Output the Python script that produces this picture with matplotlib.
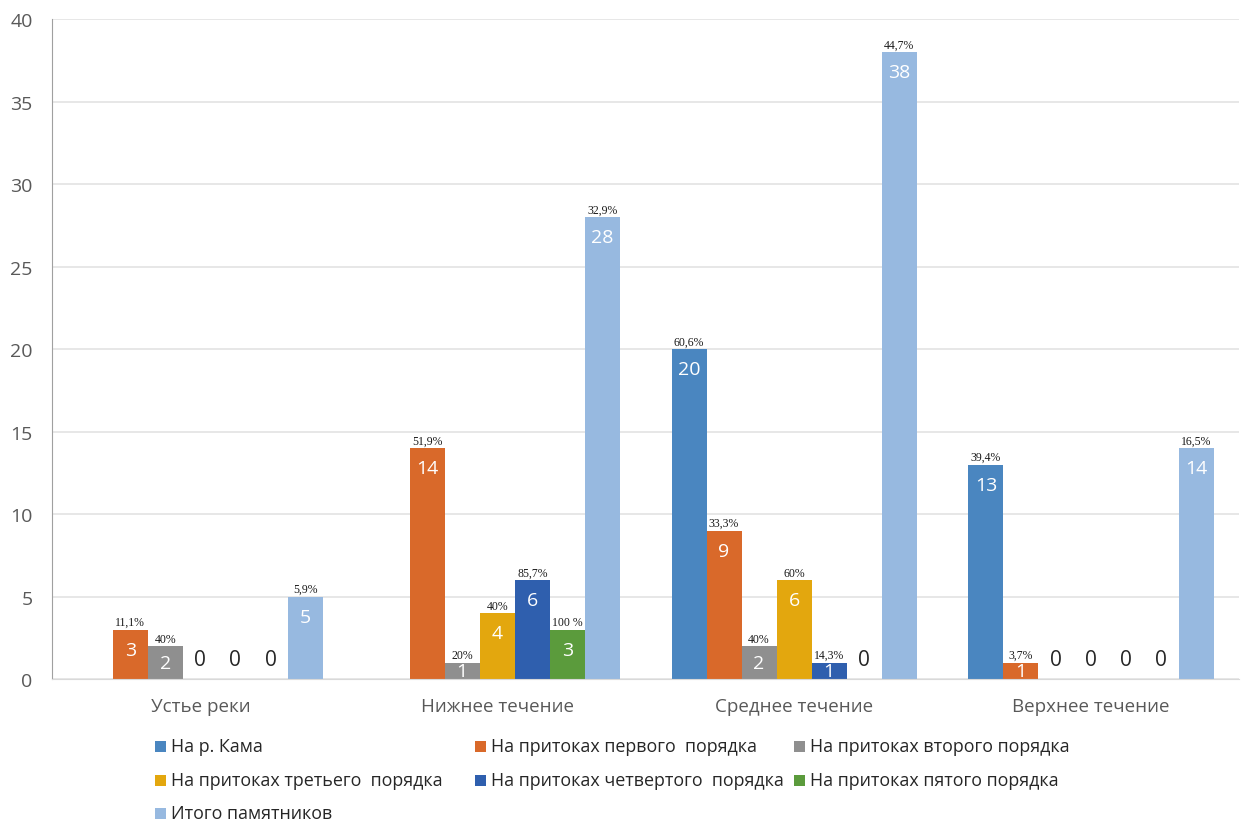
import matplotlib
matplotlib.use("Agg")
import matplotlib.pyplot as plt
from matplotlib.patches import Rectangle
import numpy as np

categories = ["Устье реки", "Нижнее течение", "Среднее течение", "Верхнее течение"]
series_names = ["На р. Кама", "На притоках первого  порядка", "На притоках второго порядка",
                "На притоках третьего  порядка", "На притоках четвертого  порядка",
                "На притоках пятого порядка", "Итого памятников"]
kama      = [None, None, 20, 13]
first     = [3, 14, 9, 1]
second    = [2, 1, 2, 0]
third     = [0, 4, 6, 0]
fourth    = [0, 6, 1, 0]
fifth     = [0, 3, 0, 0]
total     = [5, 28, 38, 14]
pct_kama   = [None, None, "60,6%", "39,4%"]
pct_first  = ["11,1%", "51,9%", "33,3%", "3,7%"]
pct_second = ["40%", "20%", "40%", None]
pct_third  = [None, "40%", "60%", None]
pct_fourth = [None, "85,7%", "14,3%", None]
pct_fifth  = [None, "100 %", None, None]
pct_total  = ["5,9%", "32,9%", "44,7%", "16,5%"]

colors = ["#4a86c0", "#d9692a", "#8f8f8f", "#e3a70e", "#2f5fae", "#5b9b3c", "#97b9e0"]
values = [kama, first, second, third, fourth, fifth, total]
pcts = [pct_kama, pct_first, pct_second, pct_third, pct_fourth, pct_fifth, pct_total]

plt.rcParams['font.family'] = ['Open Sans', 'DejaVu Sans']

W, H = 1246, 828
fig = plt.figure(figsize=(W / 100, H / 100), dpi=100)
ax = fig.add_axes([0.0417, 0.1787, 0.953, 0.7971])
ax.set_xlim(-0.5, 3.5)
ax.set_ylim(0, 40)
ax.set_yticks(range(0, 41, 5))
ax.yaxis.grid(True, color="#e3e3e3", linewidth=1.2)
ax.set_axisbelow(True)
for s in ["top", "right"]:
    ax.spines[s].set_visible(False)
ax.spines["left"].set_color("#a0a0a0")
ax.spines["bottom"].set_color("#d9d9d9")
ax.tick_params(axis="y", length=0, pad=14, labelsize=14, labelcolor="#595959")
ax.tick_params(axis="x", length=0, pad=13, labelsize=13.5, labelcolor="#595959")
ax.set_xticks(range(4))
ax.set_xticklabels(categories)

w = 0.118
x = np.arange(4)
px_per_unit = 660 / 40.0
for i, (vals, col, pc) in enumerate(zip(values, colors, pcts)):
    pos = x + (i - 3) * w
    hv = [v if v is not None else 0 for v in vals]
    ax.bar(pos, hv, width=w, color=col, label=series_names[i])
    for j, v in enumerate(vals):
        if v is None:
            continue
        if v == 0:
            ax.text(pos[j], 1.2, "0", ha="center", va="center", fontsize=15, color="#262626")
            continue
        hpx = v * px_per_unit
        off = 20 if hpx > 40 else hpx / 2
        ax.annotate(str(v), (pos[j], v), xytext=(0, -off * 0.72), textcoords="offset points",
                    ha="center", va="center", fontsize=14, color="white")
        if pc[j]:
            ax.annotate(pc[j], (pos[j], v), xytext=(0, 1), textcoords="offset points",
                        ha="center", va="bottom", fontsize=8.5, color="#1a1a1a",
                        family="Liberation Serif")

# legend, laid out in rows like the reference
leg_cols = [155, 475, 794]
leg_rows = [747, 781, 814]
sq = 11
for k, name in enumerate(series_names):
    r, c = divmod(k, 3)
    lx, ly = leg_cols[c], leg_rows[r]
    fig.add_artist(Rectangle((lx / W, 1 - (ly + sq / 2) / H), sq / W, sq / H,
                             transform=fig.transFigure, color=colors[k], lw=0))
    fig.text((lx + sq + 5) / W, 1 - ly / H, name, ha="left", va="center",
             fontsize=12.9, color="#262626")

fig.savefig("out.png", dpi=100)
